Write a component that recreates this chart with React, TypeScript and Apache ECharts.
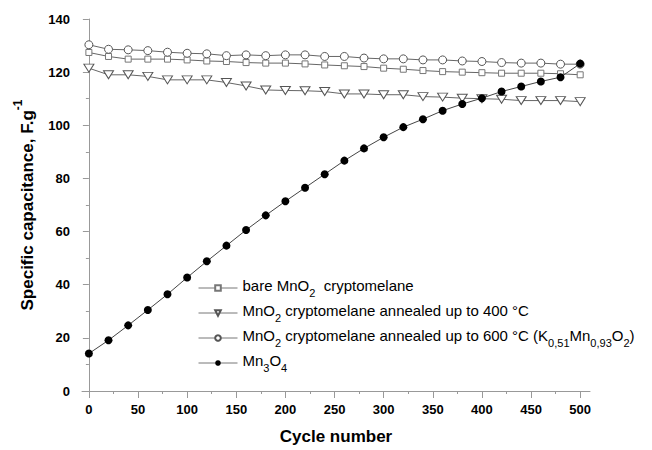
import React, { useEffect, useRef } from 'react';
import * as echarts from 'echarts';

const cycles = [0, 20, 40, 60, 80, 100, 120, 140, 160, 180, 200, 220, 240, 260, 280, 300, 320, 340, 360, 380, 400, 420, 440, 460, 480, 500];
const bareMnO2 = [127.4, 125.9, 124.9, 124.9, 124.9, 124.6, 124.2, 124.0, 123.6, 123.4, 123.4, 123.1, 122.7, 122.4, 122.1, 121.5, 121.1, 120.6, 120.2, 120.0, 119.8, 119.6, 119.6, 119.6, 119.4, 119.0];
const annealed400 = [121.5, 119.0, 119.0, 118.4, 117.1, 117.1, 117.1, 116.1, 114.8, 113.3, 113.1, 113.0, 112.7, 111.8, 111.8, 111.5, 111.5, 110.8, 110.6, 110.2, 110.0, 109.8, 109.3, 109.3, 109.3, 108.9];
const annealed600 = [130.3, 128.6, 128.4, 128.1, 127.5, 127.1, 126.9, 126.2, 126.5, 126.2, 126.5, 126.5, 125.9, 125.9, 125.3, 125.0, 125.0, 124.6, 124.6, 124.2, 124.0, 123.6, 123.4, 123.4, 123.0, 123.0];
const mn3o4 = [14.1, 19.1, 24.7, 30.5, 36.4, 42.7, 48.8, 54.7, 60.6, 66.1, 71.4, 76.5, 81.6, 86.7, 91.3, 95.5, 99.3, 102.3, 105.5, 108.0, 110.2, 112.7, 114.6, 116.5, 118.1, 123.2];

const xMajorTicks = [0, 50, 100, 150, 200, 250, 300, 350, 400, 450, 500];
const xMinorTicks = [25, 75, 125, 175, 225, 275, 325, 375, 425, 475];

const seriesNames = [
  'bare MnO2  cryptomelane',
  'MnO2 cryptomelane annealed up to 400 °C',
  'MnO2 cryptomelane annealed up to 600 °C (K0,51Mn0,93O2)',
  'Mn3O4',
];
const legendRich = [
  '{n|bare MnO}{s|2}{n|  cryptomelane}',
  '{n|MnO}{s|2}{n| cryptomelane annealed up to 400 °C}',
  '{n|MnO}{s|2}{n| cryptomelane annealed up to 600 °C (K}{s|0,51}{n|Mn}{s|0,93}{n|O}{s|2}{n|)}',
  '{n|Mn}{s|3}{n|O}{s|4}',
];

const FONT = '"Liberation Sans", Arial, sans-serif';

export default function App() {
  const ref = useRef<HTMLDivElement>(null);
  useEffect(() => {
    document.body.style.margin = '0';
    const chart = echarts.init(ref.current!, undefined, { renderer: 'svg' });
    const pairs = (arr: number[]) => cycles.map((c, i) => [c, arr[i]]);
    const lineColor = '#666';
    const option: any = {
      animation: false,
      backgroundColor: '#fff',
      textStyle: { fontFamily: FONT },
      grid: { left: 82, right: 62, top: 19, bottom: 58.5, containLabel: false },
      legend: {
        orient: 'vertical',
        left: 198,
        top: 278,
        padding: 0,
        itemWidth: 39,
        itemHeight: 7,
        itemGap: 5,
        data: seriesNames,
        lineStyle: { width: 1, color: '#777' },
        formatter: (name: string) => legendRich[seriesNames.indexOf(name)],
        textStyle: {
          color: '#000',
          fontFamily: FONT,
          fontSize: 15,
          rich: {
            n: { fontSize: 15, fontFamily: FONT, color: '#000', verticalAlign: 'top', lineHeight: 17 },
            s: { fontSize: 11, fontFamily: FONT, color: '#000', verticalAlign: 'bottom', lineHeight: 20 },
          },
        },
      },
      xAxis: [
        {
          type: 'value',
          min: -7,
          max: 510,
          position: 'bottom',
          name: 'Cycle number',
          nameLocation: 'middle',
          nameGap: 37,
          nameTextStyle: { fontSize: 17, fontWeight: 'bold', color: '#000', fontFamily: FONT },
          axisLine: { show: true, lineStyle: { color: '#999', width: 1 } },
          axisTick: { show: true, inside: false, length: 7, customValues: xMajorTicks, lineStyle: { color: '#999' } },
          axisLabel: { show: true, customValues: xMajorTicks, margin: 12, fontSize: 13, fontWeight: 'bold', color: '#000', fontFamily: FONT },
          splitLine: { show: false },
        },
        {
          type: 'value',
          min: -7,
          max: 510,
          position: 'bottom',
          axisLine: { show: false },
          axisTick: { show: true, inside: false, length: 3, customValues: xMinorTicks, lineStyle: { color: '#999' } },
          axisLabel: { show: false },
          splitLine: { show: false },
        },
      ],
      yAxis: {
        type: 'value',
        min: 0,
        max: 140,
        interval: 20,
        name: '{n|Specific capacitance, F.g}{p|-1}',
        nameLocation: 'middle',
        nameGap: 46,
        nameTextStyle: {
          fontFamily: FONT,
          rich: {
            n: { fontSize: 17, fontWeight: 'bold', color: '#000', fontFamily: FONT, verticalAlign: 'bottom', lineHeight: 24 },
            p: { fontSize: 12, fontWeight: 'bold', color: '#000', fontFamily: FONT, verticalAlign: 'top', lineHeight: 13 },
          },
        },
        axisLine: { show: true, lineStyle: { color: '#999', width: 1 } },
        axisTick: { show: true, inside: false, length: 6, lineStyle: { color: '#999' } },
        minorTick: { show: true, splitNumber: 2, length: 3, lineStyle: { color: '#999' } },
        axisLabel: { margin: 12, fontSize: 13, fontWeight: 'bold', color: '#000', fontFamily: FONT },
        splitLine: { show: false },
      },
      series: [
        {
          name: seriesNames[0],
          type: 'line',
          data: pairs(bareMnO2),
          symbol: 'rect',
          symbolSize: 6,
          lineStyle: { color: lineColor, width: 1 },
          itemStyle: { color: '#fff', borderColor: '#777', borderWidth: 1 },
        },
        {
          name: seriesNames[1],
          type: 'line',
          data: pairs(annealed400),
          symbol: 'triangle',
          symbolRotate: 180,
          symbolSize: [10, 8],
          lineStyle: { color: lineColor, width: 1 },
          itemStyle: { color: '#fff', borderColor: '#555', borderWidth: 1 },
        },
        {
          name: seriesNames[2],
          type: 'line',
          data: pairs(annealed600),
          symbol: 'circle',
          symbolSize: 8,
          lineStyle: { color: lineColor, width: 1 },
          itemStyle: { color: '#fff', borderColor: '#555', borderWidth: 1 },
        },
        {
          name: seriesNames[3],
          type: 'line',
          data: pairs(mn3o4),
          symbol: 'circle',
          symbolSize: 8,
          lineStyle: { color: '#444', width: 1 },
          itemStyle: { color: '#000', borderColor: '#000', borderWidth: 0 },
        },
      ],
    };
    chart.setOption(option);
    return () => chart.dispose();
  }, []);
  return <div ref={ref} style={{ position: 'absolute', left: 0, top: 0, width: 652, height: 450 }} />;
}
